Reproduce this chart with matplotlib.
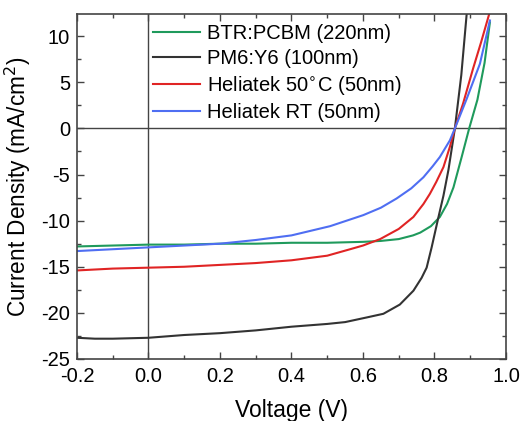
import matplotlib.pyplot as plt
from matplotlib.ticker import MultipleLocator

plt.rcParams['font.family'] = ['Liberation Sans', 'DejaVu Sans']

# J-V curves, voltage in V, current density in mA/cm2
btr_v = [-0.2, -0.1, 0.0, 0.1, 0.2, 0.3, 0.4, 0.5, 0.6, 0.65, 0.7, 0.74, 0.76, 0.79,
         0.815, 0.835, 0.853, 0.876, 0.897, 0.92, 0.94, 0.955]
btr_j = [-12.8, -12.7, -12.6, -12.6, -12.5, -12.5, -12.4, -12.4, -12.3, -12.2, -12.0, -11.6,
         -11.3, -10.6, -9.6, -8.2, -6.4, -3.1, 0.0, 3.1, 7.1, 11.5]

pm6_v = [-0.2, -0.15, -0.1, 0.0, 0.1, 0.2, 0.3, 0.4, 0.5, 0.55, 0.61, 0.657, 0.703, 0.741,
         0.764, 0.778, 0.792, 0.81, 0.825, 0.839, 0.857, 0.875, 0.89]
pm6_j = [-22.7, -22.8, -22.8, -22.7, -22.4, -22.2, -21.9, -21.5, -21.2, -21.0, -20.5, -20.1,
         -19.1, -17.6, -16.2, -15.1, -12.9, -9.8, -7.3, -4.5, 0.0, 5.8, 12.4]

h50_v = [-0.2, -0.1, 0.0, 0.1, 0.2, 0.3, 0.4, 0.5, 0.564, 0.6, 0.648, 0.7, 0.741, 0.769,
         0.787, 0.805, 0.825, 0.843, 0.857, 0.88, 0.908, 0.93, 0.953]
h50_j = [-15.4, -15.2, -15.1, -15.0, -14.8, -14.6, -14.3, -13.8, -13.1, -12.7, -12.0, -10.9,
         -9.6, -8.2, -7.1, -5.8, -4.2, -2.0, 0.0, 2.7, 6.5, 9.3, 12.4]

hrt_v = [-0.2, -0.1, 0.0, 0.1, 0.2, 0.3, 0.4, 0.508, 0.601, 0.65, 0.694, 0.735, 0.769,
         0.795, 0.815, 0.843, 0.857, 0.89, 0.927, 0.955]
hrt_j = [-13.3, -13.1, -12.9, -12.7, -12.5, -12.1, -11.6, -10.6, -9.4, -8.6, -7.6, -6.5,
         -5.3, -4.1, -3.1, -1.3, 0.0, 3.2, 7.0, 11.7]

fig = plt.figure(figsize=(5.23, 4.21), dpi=100)
ax = fig.add_axes([0.1472, 0.1473, 0.8203, 0.8194])

ax.axhline(0, color='#444444', lw=1.0, zorder=1)
ax.axvline(0, color='#444444', lw=1.0, zorder=1)

ax.plot(btr_v, btr_j, color='#1f9a5c', lw=1.5, label='BTR:PCBM (220nm)')
ax.plot(pm6_v, pm6_j, color='#333333', lw=1.5, label='PM6:Y6 (100nm)')
ax.plot(h50_v, h50_j, color='#e02424', lw=1.5, label='Heliatek 50$^{\\circ}$C (50nm)')
ax.plot(hrt_v, hrt_j, color='#4f6ef2', lw=1.5, label='Heliatek RT (50nm)')

ax.set_xlim(-0.2, 1.0)
ax.set_ylim(-25, 12.4)
ax.xaxis.set_major_locator(MultipleLocator(0.2))
ax.xaxis.set_minor_locator(MultipleLocator(0.1))
ax.yaxis.set_major_locator(MultipleLocator(5))
ax.yaxis.set_minor_locator(MultipleLocator(2.5))
ax.set_xticks([-0.2, 0.0, 0.2, 0.4, 0.6, 0.8, 1.0])
ax.set_xticklabels(['-0.2', '0.0', '0.2', '0.4', '0.6', '0.8', '1.0'])
ax.set_yticks([-25, -20, -15, -10, -5, 0, 5, 10])
ax.set_yticklabels(['-25', '-20', '-15', '-10', '-5', '0', '5', '10'])
ax.tick_params(which='both', direction='in', top=True, right=True, color='#444444',
               labelsize=14.5)
ax.tick_params(axis='x', pad=6)
ax.tick_params(axis='y', pad=5)
ax.tick_params(which='major', length=5, width=1)
ax.tick_params(which='minor', length=3, width=1)
for s in ax.spines.values():
    s.set_color('#444444')
    s.set_linewidth(1.2)

ax.set_xlabel('Voltage (V)', fontsize=16.5, labelpad=9)
ax.set_ylabel('Current Density (mA/cm$^2$)', fontsize=16.3, labelpad=6)

ax.legend(loc='upper left', bbox_to_anchor=(153 / 523, 1 - 24 / 421),
          bbox_transform=fig.transFigure, frameon=False, fontsize=14.5,
          handlelength=2.35, handletextpad=0.35, labelspacing=0.3,
          borderpad=0, borderaxespad=0)

fig.savefig('out.png', dpi=100)
